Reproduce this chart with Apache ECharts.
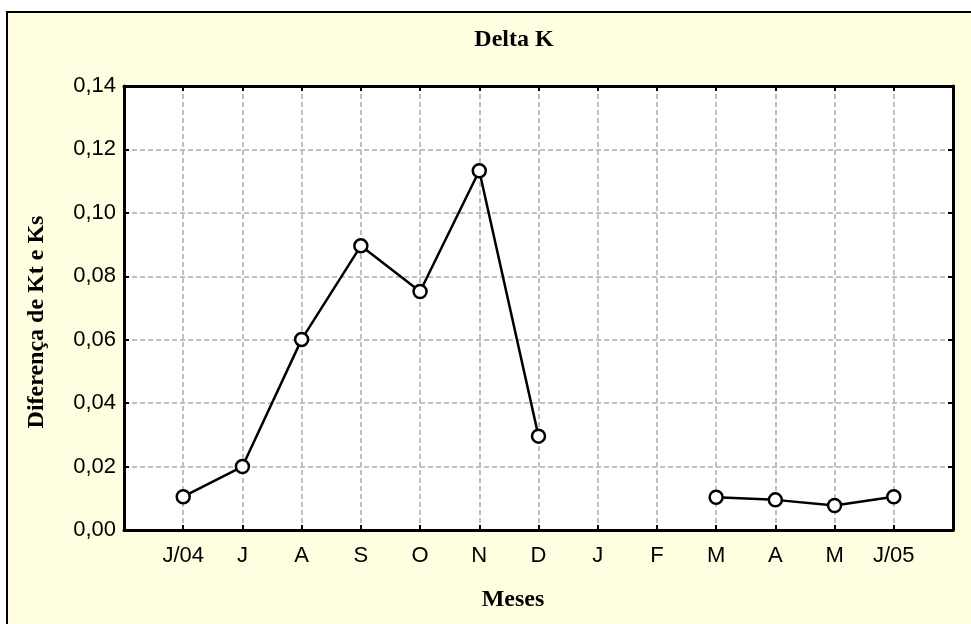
<!DOCTYPE html>
<html>
<head>
<meta charset="utf-8">
<script src="https://cdn.jsdelivr.net/npm/echarts@6/dist/echarts.min.js"></script>
<style>
  html, body { margin: 0; padding: 0; background: #ffffff; overflow: hidden; width: 971px; height: 624px; }
  #frame { position: absolute; left: 6px; top: 11px; width: 2000px; height: 2000px;
           background: #FFFEE0; border: 2px solid #000; }
  #chart { position: absolute; left: 0; top: 0; width: 971px; height: 624px; }
</style>
</head>
<body>
<div id="frame"></div>
<div id="chart"></div>
<script>
// Data
const categories = ['J/04', 'J', 'A', 'S', 'O', 'N', 'D', 'J', 'F', 'M', 'A', 'M', 'J/05'];
const deltaK = [0.0105, 0.0200, 0.0601, 0.0896, 0.0752, 0.1133, 0.0296, null, null, 0.0103, 0.0095, 0.0077, 0.0105];
const yTicks = [0, 0.02, 0.04, 0.06, 0.08, 0.10, 0.12, 0.14];
const titleText = 'Delta K';
const xName = 'Meses';
const yName = 'Diferença de Kt e Ks';

const seriesData = categories.map((c, i) => [i + 1, deltaK[i] === null ? '-' : deltaK[i]]);

const chart = echarts.init(document.getElementById('chart'), null, { renderer: 'canvas' });
const gridLine = { show: true, showMinLine: false, showMaxLine: false, lineStyle: { color: '#c0c0c0', width: 2, type: [5, 3] } };
const axisLine = { show: true, onZero: false, lineStyle: { color: '#000', width: 3 } };
const tick = { show: true, inside: true, length: 5, lineStyle: { color: '#000', width: 2 } };
const serifBold = 'bold 24px "Liberation Serif"';

chart.setOption({
  backgroundColor: 'transparent',
  animation: false,
  grid: { left: 124, right: 18, top: 86, bottom: 94, show: true, backgroundColor: '#ffffff', borderColor: '#000', borderWidth: 0 },
  graphic: [
    { type: 'text', x: 514, y: 40, style: { text: titleText, textAlign: 'center', textVerticalAlign: 'middle', font: serifBold, fill: '#000' } },
    { type: 'text', x: 513, y: 600, style: { text: xName, textAlign: 'center', textVerticalAlign: 'middle', font: serifBold, fill: '#000' } },
    { type: 'text', x: 37, y: 322, rotation: Math.PI / 2, style: { text: yName, textAlign: 'center', textVerticalAlign: 'middle', font: serifBold, fill: '#000' } }
  ],
  xAxis: [
    {
      type: 'value', min: 0, max: 14, interval: 1, position: 'bottom',
      axisLine: axisLine, axisTick: tick, splitLine: gridLine,
      axisLabel: { margin: 15, fontFamily: 'Liberation Sans', fontSize: 22, color: '#000',
        formatter: v => (v >= 1 && v <= categories.length) ? categories[v - 1] : '' }
    },
    {
      type: 'value', min: 0, max: 14, interval: 1, position: 'top',
      axisLine: axisLine, axisTick: tick, splitLine: { show: false }, axisLabel: { show: false }
    }
  ],
  yAxis: [
    {
      type: 'value', min: yTicks[0], max: yTicks[yTicks.length - 1], interval: 0.02, position: 'left',
      axisLine: axisLine, axisTick: tick, splitLine: gridLine,
      axisLabel: { margin: 8, fontFamily: 'Liberation Sans', fontSize: 22, color: '#000',
        formatter: v => v.toFixed(2).replace('.', ',') }
    },
    {
      type: 'value', min: yTicks[0], max: yTicks[yTicks.length - 1], interval: 0.02, position: 'right',
      axisLine: axisLine, axisTick: tick, splitLine: { show: false }, axisLabel: { show: false }
    }
  ],
  series: [{
    type: 'line',
    data: seriesData,
    connectNulls: false,
    symbol: 'circle',
    symbolSize: 13,
    lineStyle: { color: '#000', width: 2.5 },
    itemStyle: { color: '#fff', borderColor: '#000', borderWidth: 2.5 },
    z: 5
  }]
});
</script>
</body>
</html>
